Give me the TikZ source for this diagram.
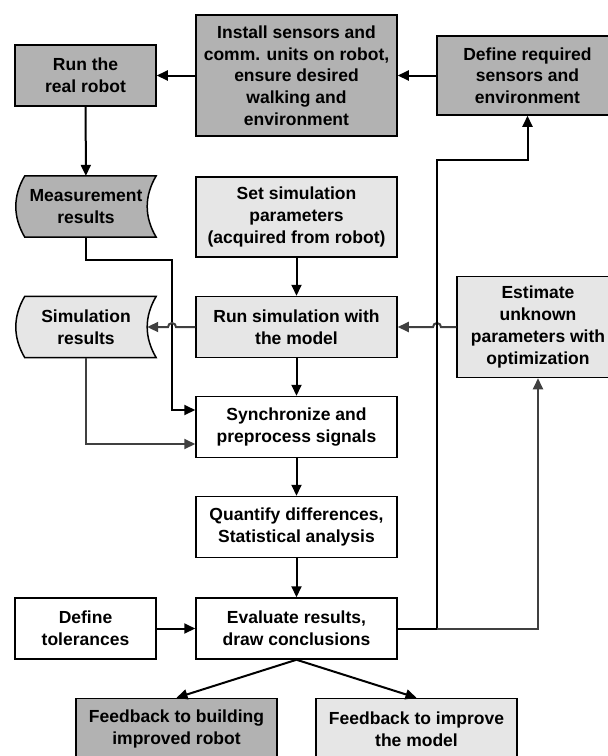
\documentclass[tikz,border=0pt]{standalone}
\usepackage{fontspec}
\setmainfont{Liberation Sans}
\usepackage{tikz}
\usetikzlibrary{arrows.meta,calc,backgrounds}
\definecolor{colordark}{HTML}{B2B2B2}
\definecolor{colorlight}{HTML}{E6E6E6}
\definecolor{colorline}{HTML}{404040}
\tikzset{box/.style={draw, line width=1.5pt, align=center, inner sep=2pt,
  font=\bfseries\fontsize{17.5}{21.7}\selectfont}}
\tikzset{store/.style={draw=none, align=center, inner sep=2pt,
  minimum width=140pt, minimum height=61pt,
  font=\bfseries\fontsize{17.5}{21.7}\selectfont}}
\tikzset{
  edgeblk/.style={black, line width=2pt, -{Triangle[length=11pt,width=10pt]}},
  edgegry/.style={colorline, line width=2pt, -{Triangle[length=11pt,width=10pt]}}
}
% outline of a stored-data node: bulging left side, hollow right side
\newcommand\storeoutline[2]{%
  \draw[line width=1.5pt, fill=#2]
    ($(#1.north west)+(9pt,0)$) -- (#1.north east)
    .. controls ($(#1.north east)!0.33!(#1.south east)+(-12pt,0)$)
       and ($(#1.north east)!0.67!(#1.south east)+(-12pt,0)$) .. (#1.south east)
    -- ($(#1.south west)+(9pt,0)$)
    .. controls ($(#1.south west)!0.33!(#1.north west)+(-3pt,0)$)
       and ($(#1.south west)!0.67!(#1.north west)+(-3pt,0)$) .. ($(#1.north west)+(9pt,0)$)
    -- cycle;}

\begin{document}
\begin{tikzpicture}[x=1pt,y=-1pt]
\useasboundingbox (0,0) rectangle (608,756);

\node[box, fill=colordark, minimum width=141pt, minimum height=61pt] (robot) at (85.5,75.5)
{Run the\\real robot};

\node[box, fill=colordark, minimum width=201pt, minimum height=121pt] (install) at (296.5,75.5)
{Install sensors and\\comm. units on robot,\\ensure desired\\walking and\\environment};

\node[box, fill=colordark, minimum width=181pt, minimum height=79pt] (define) at (527.5,75.5)
{Define required\\sensors and\\environment};

\node[store] (meas) at (86,206.5) {Measurement\\results};

\node[box, fill=colorlight, minimum width=201pt, minimum height=80pt] (setsim) at (296.5,217)
{Set simulation\\parameters\\(acquired from robot)};

\node[store] (simres) at (86,327) {Simulation\\results};

\node[box, fill=colorlight, minimum width=201pt, minimum height=61pt] (runsim) at (296.5,327)
{Run simulation with\\the model};

\node[box, fill=colorlight, minimum width=162pt, minimum height=101pt] (estim) at (538,327)
{Estimate\\unknown\\parameters with\\optimization};

\node[box, fill=white, minimum width=201pt, minimum height=61pt] (sync) at (296.5,427)
{Synchronize and\\preprocess signals};

\node[box, fill=white, minimum width=201pt, minimum height=61pt] (quant) at (296.5,527)
{Quantify differences,\\Statistical analysis};

\node[box, fill=white, minimum width=141pt, minimum height=61pt] (toler) at (85.5,628.5)
{Define\\tolerances};

\node[box, fill=white, minimum width=201pt, minimum height=61pt] (evalr) at (296.5,628.5)
{Evaluate results,\\draw conclusions};

\node[box, fill=colordark, minimum width=201pt, minimum height=61pt] (fbrobot) at (176.5,729)
{Feedback to building\\improved robot};

\node[box, fill=colorlight, minimum width=201pt, minimum height=61pt] (fbmodel) at (416.5,729)
{Feedback to improve\\the model};

\begin{scope}[on background layer]
\storeoutline{meas}{colordark}
\storeoutline{simres}{colorlight}
\end{scope}

\coordinate (mbend) at (172,260);
\coordinate (eturn) at (437,628.5);
\coordinate (dturn) at (437,160);
\coordinate (simresE) at ($(simres.east)+(-9pt,0)$);

\draw[edgeblk] (define) -- (install);
\draw[edgeblk] (install) -- (robot);
\draw[edgeblk] (robot) -- (meas);
\draw[edgeblk] (meas.south) |- (mbend) |- ($(sync.west)+(0,-17)$);
\draw[edgegry] (simres.south) |- ($(sync.west)+(0,17)$);

\draw[edgeblk] (setsim) -- (runsim);
\draw[edgeblk] (runsim) -- (sync);
\draw[edgeblk] (sync) -- (quant);
\draw[edgeblk] (quant) -- (evalr);
\draw[edgeblk] (toler) -- (evalr);

\draw[edgegry] (runsim.west) -- ($(runsim.west -| mbend)+(4pt,0)$)
  arc[start angle=0, end angle=180, radius=4pt] -- (simresE);
\draw[edgegry] (estim.west) -- ($(estim.west -| eturn)+(4pt,0)$)
  arc[start angle=0, end angle=180, radius=4pt] -- (runsim.east);

\draw[edgeblk] (evalr.east) -- (eturn) -- (dturn) -| (define.south);
\draw[edgegry] (eturn) -| (estim.south);

\draw[edgeblk] (evalr.south) -- (fbrobot.north);
\draw[edgeblk] (evalr.south) -- (fbmodel.north);
\end{tikzpicture}
\end{document}
